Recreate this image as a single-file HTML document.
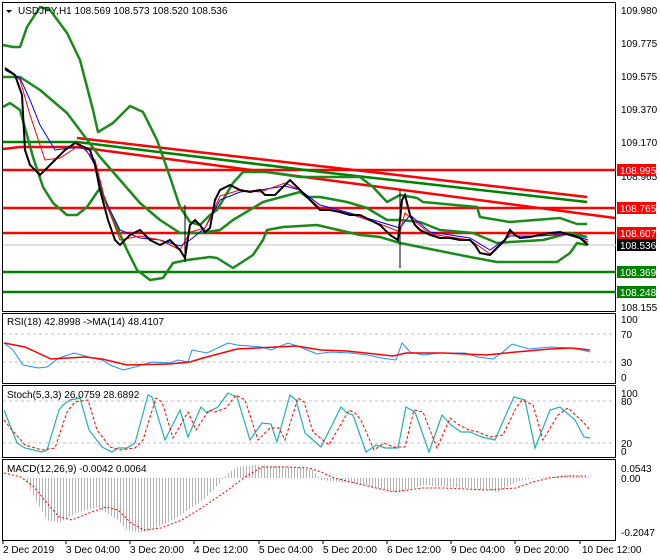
<!DOCTYPE html>
<html><head><meta charset="utf-8"><style>
html,body{margin:0;padding:0;background:#fff;}
svg{display:block;font-family:"Liberation Sans",sans-serif;}
text{font-size:10px;fill:#000;}
</style></head><body>
<svg width="660" height="560" viewBox="0 0 660 560">
<defs>
<pattern id="hb" width="3" height="10" patternUnits="userSpaceOnUse"><rect x="0" y="0" width="1" height="10" fill="#b4b4b4"/></pattern>
</defs>
<rect width="660" height="560" fill="#fff"/>
<g fill="none" stroke="#000" stroke-width="1">
<rect x="2.5" y="2.5" width="613" height="309"/>
<rect x="2.5" y="313.5" width="613" height="70"/>
<rect x="2.5" y="385.5" width="613" height="72"/>
<rect x="2.5" y="459.5" width="613" height="81"/>
</g>
<line x1="3" y1="245" x2="616" y2="245" stroke="#c0c0c0"/>
<g stroke="#ff0000" stroke-width="2.5">
<line x1="3" y1="170" x2="616" y2="170"/>
<line x1="3" y1="208" x2="616" y2="208"/>
<line x1="3" y1="233" x2="616" y2="233"/>
</g>
<g stroke="#008000" stroke-width="2.5">
<line x1="3" y1="272" x2="616" y2="272"/>
<line x1="3" y1="292" x2="616" y2="292"/>
</g>
<polyline points="3,142 77,142 330,173 587,202" fill="none" stroke="#008000" stroke-width="2.5"/>
<line x1="77" y1="138" x2="587" y2="197" stroke="#ff0000" stroke-width="2.5"/>
<polyline points="3,149 20,147 77,147 615,218" fill="none" stroke="#ff0000" stroke-width="2.5"/>
<g fill="none" stroke="#1a8a1a" stroke-width="2.5" stroke-linejoin="round">
<polyline points="3,45 13,47 20,47 27,27 40,7 50,10 67,33 80,60 93,110 98,132 113,123 130,106 143,112 157,140 170,177 180,207 190,222 200,225 210,215 217,210 233,183 243,172 267,172 300,177 360,177 373,187 387,202 400,195 417,198 423,202 477,207 480,217 510,222 560,218 577,224 587,224"/>
<polyline points="3,107 10,103 20,110 33,157 43,187 53,203 67,215 77,215 87,207 100,188 110,212 127,250 137,270 150,280 163,278 173,263 187,260 210,257 217,258 233,268 253,255 263,240 267,230 283,227 317,225 360,235 380,237 400,243 420,247 470,257 497,262 557,262 570,253 577,243 587,245"/>
<polyline points="3,77 20,77 40,90 67,113 100,157 120,180 140,203 160,220 180,233 200,233 220,230 233,220 263,202 300,192 307,197 320,197 347,202 367,208 387,220 400,220 420,222 440,230 473,233 497,243 510,242 543,240 570,233 587,237"/>
</g>
<polyline points="5,70 20,78 30,100 40,125 55,150 70,148 85,148 95,165 105,200 120,230 140,238 160,240 180,246 190,240 205,228 220,200 240,192 260,190 285,186 300,190 320,205 350,213 380,222 400,228 410,215 430,232 470,238 490,250 510,236 540,236 570,234 588,240" fill="none" stroke="#0000ff" stroke-width="1"/>
<polyline points="5,68 20,80 30,115 45,160 60,158 80,145 95,160 105,200 120,240 140,236 160,240 180,250 190,232 205,228 220,196 240,190 260,192 285,183 300,190 320,208 350,214 380,224 400,232 405,213 430,234 470,240 490,254 510,234 540,234 570,234 588,242" fill="none" stroke="#ff0000" stroke-width="1"/>
<polyline points="5,68 15,75 22,95 25,150 30,165 40,175 45,170 50,165 55,160 65,150 75,143 80,145 90,150 95,165 100,190 108,220 115,240 120,245 130,235 140,230 150,240 160,245 170,240 180,250 185,258 190,225 195,220 200,225 205,232 210,228 215,200 220,190 230,185 240,190 250,192 260,190 265,195 275,195 285,185 290,180 295,185 300,190 310,200 320,210 330,210 340,212 350,215 360,215 370,220 380,225 390,235 398,240 402,200 405,195 410,215 415,225 420,230 430,235 440,238 450,238 460,240 470,240 475,245 480,253 490,255 495,250 500,245 505,240 510,230 515,235 520,238 530,237 540,235 550,233 560,232 570,235 580,238 588,245" fill="none" stroke="#000" stroke-width="2"/>
<line x1="400" y1="190" x2="400" y2="268" stroke="#000"/>
<line x1="185" y1="205" x2="185" y2="262" stroke="#000"/>
<polygon points="6,10 12,10 9,13" fill="#000"/>
<text x="18" y="14">USDJPY,H1  108.569 108.573 108.520 108.536</text>
<g>
<text x="621" y="14">109.980</text>
<text x="621" y="47">109.775</text>
<text x="621" y="80">109.575</text>
<text x="621" y="113">109.370</text>
<text x="621" y="146">109.170</text>
<text x="621" y="180">108.965</text>
<text x="621" y="311">108.155</text>
</g>
<g font-size="10">
<rect x="617" y="164" width="39" height="12" fill="#ff0000"/><text x="620" y="174" style="fill:#fff">108.995</text>
<rect x="617" y="202" width="39" height="12" fill="#ff0000"/><text x="620" y="212" style="fill:#fff">108.765</text>
<rect x="617" y="227" width="39" height="12" fill="#ff0000"/><text x="620" y="237" style="fill:#fff">108.607</text>
<rect x="617" y="239" width="39" height="12" fill="#000"/><text x="620" y="249" style="fill:#fff">108.536</text>
<rect x="617" y="266" width="39" height="12" fill="#008000"/><text x="620" y="276" style="fill:#fff">108.369</text>
<rect x="617" y="286" width="39" height="12" fill="#008000"/><text x="620" y="296" style="fill:#fff">108.248</text>
</g>
<g stroke="#c0c0c0" stroke-dasharray="3,3"><line x1="3" y1="334" x2="615" y2="334"/><line x1="3" y1="362" x2="615" y2="362"/></g>
<polyline points="4,343 13,350 23,365 38,368 47,367 59,358 74,353 89,357 102,360 110,365 123,370 135,367 152,362 169,363 178,360 188,362 192,350 207,353 228,343 237,345 262,347 271,350 288,343 300,347 317,354 330,352 351,353 368,355 381,358 396,360 402,343 410,352 423,355 440,353 465,353 478,357 493,359 503,352 512,344 529,349 550,347 571,348 582,350 590,352" fill="none" stroke="#1e90ff" stroke-width="1"/>
<polyline points="4,343 25,347 51,359 85,357 102,359 127,365 169,364 190,362 203,358 237,349 296,346 321,350 347,351 393,356 406,353 444,353 486,355 516,352 550,349 571,348 590,350" fill="none" stroke="#ff0000" stroke-width="1.5"/>
<text x="7" y="325">RSI(18) 42.8998  -&gt;MA(14) 48.4107</text>
<text x="621" y="323">100</text><text x="621" y="338">70</text><text x="621" y="366">30</text><text x="621" y="381">0</text>
<g stroke="#c0c0c0" stroke-dasharray="3,3"><line x1="3" y1="401" x2="615" y2="401"/><line x1="3" y1="443" x2="615" y2="443"/></g>
<polyline points="4,410 17,443 25,448 42,452 47,450 59,410 63,405 70,400 80,398 89,430 102,447 112,452 118,448 127,448 135,443 148,395 152,397 165,440 180,410 188,437 201,407 207,413 212,410 218,407 228,393 237,397 250,440 262,423 271,424 277,442 290,395 296,400 305,433 321,447 341,407 347,413 353,415 366,452 376,445 385,448 398,448 406,407 415,412 429,452 442,415 451,425 461,432 470,432 482,437 495,440 508,410 514,397 525,400 535,448 550,410 560,407 575,420 584,437 590,438" fill="none" stroke="#20b2aa" stroke-width="1.2"/>
<polyline points="4,420 12,430 25,445 42,450 55,448 67,412 75,402 88,400 97,430 110,447 120,450 135,448 143,440 156,398 162,402 173,438 188,412 196,430 209,410 215,412 226,408 236,395 245,400 258,440 270,428 279,428 285,440 298,398 304,402 313,432 329,445 349,410 355,413 361,420 374,450 384,443 393,447 405,447 414,410 423,412 437,448 450,418 459,425 469,430 478,432 490,437 503,435 516,408 522,400 533,405 543,440 558,415 568,408 583,422 590,430" fill="none" stroke="#ff0000" stroke-width="1" stroke-dasharray="3,2"/>
<text x="7" y="398">Stoch(5,3,3) 26.0759 28.6892</text>
<text x="621" y="397">100</text><text x="621" y="405">80</text><text x="621" y="447">20</text><text x="621" y="455">0</text>
<polygon points="2,478 13,478 25,478 34,497 47,520 59,523 76,513 97,507 118,520 127,530 140,533 152,530 178,517 203,500 220,483 228,473 237,467 254,465 296,467 313,470 321,480 338,482 364,485 398,493 423,485 465,488 499,492 516,482 533,478 571,475 590,477 590,478" fill="url(#hb)"/>
<polyline points="4,473 21,477 34,487 47,503 59,517 72,520 89,513 106,507 118,510 131,523 144,530 161,528 182,520 203,507 228,490 245,477 262,467 288,467 309,468 321,472 334,478 351,482 372,487 393,492 423,488 444,488 486,490 516,488 533,482 550,478 567,476 586,476" fill="none" stroke="#ff0000" stroke-width="1" stroke-dasharray="2,2"/>
<text x="7" y="472">MACD(12,26,9) -0.0042 0.0064</text>
<text x="621" y="472">0.0543</text><text x="621" y="482">0.00</text><text x="621" y="536">-0.2047</text>
<g stroke="#000"><line x1="3" y1="540" x2="3" y2="544"/><line x1="66" y1="540" x2="66" y2="544"/><line x1="130" y1="540" x2="130" y2="544"/><line x1="194" y1="540" x2="194" y2="544"/><line x1="259" y1="540" x2="259" y2="544"/><line x1="323" y1="540" x2="323" y2="544"/><line x1="387" y1="540" x2="387" y2="544"/><line x1="451" y1="540" x2="451" y2="544"/><line x1="515" y1="540" x2="515" y2="544"/><line x1="580" y1="540" x2="580" y2="544"/></g>
<g>
<text x="3" y="553">2 Dec 2019</text>
<text x="66" y="553">3 Dec 04:00</text>
<text x="130" y="553">3 Dec 20:00</text>
<text x="194" y="553">4 Dec 12:00</text>
<text x="259" y="553">5 Dec 04:00</text>
<text x="323" y="553">5 Dec 20:00</text>
<text x="387" y="553">6 Dec 12:00</text>
<text x="451" y="553">9 Dec 04:00</text>
<text x="515" y="553">9 Dec 20:00</text>
<text x="582" y="553">10 Dec 12:00</text>
</g>
</svg>
</body></html>
